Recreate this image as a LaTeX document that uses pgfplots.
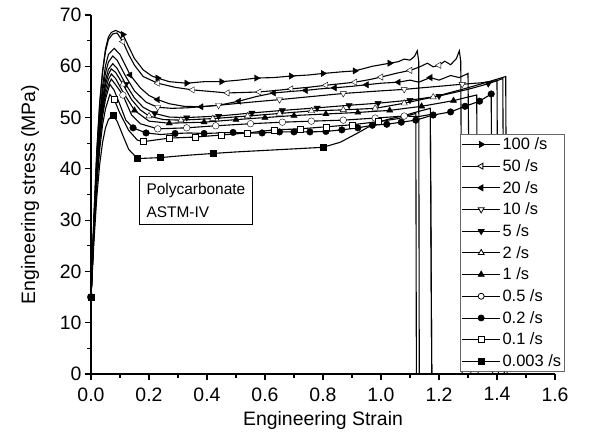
\documentclass[border=0pt]{standalone}
\usepackage{pgfplots}
\pgfplotsset{compat=1.18}
\usepackage{fontspec}
\setmainfont{Liberation Sans}

\pgfplotsset{
  cur/.style={black, line width=1.1bp, no marks, forget plot},
  mk/.style={black, only marks, forget plot, mark size=3.6bp},
}

\begin{document}
\begin{tikzpicture}
\path[use as bounding box] (-91bp,-74bp) rectangle (514bp,374bp);
\begin{axis}[
  at={(0,0)}, anchor=south west,
  width=464bp, height=359bp, scale only axis,
  xmin=0, xmax=1.6, ymin=0, ymax=70,
  clip=false,
  axis x line*=bottom, axis y line*=left,
  axis line style={-, line width=1.1bp},
  tick align=outside, major tick length=6bp, minor tick length=3.5bp,
  every tick/.style={black, line width=1.1bp},
  xtick={0,0.2,0.4,0.6,0.8,1.0,1.2,1.4,1.6},
  ytick={0,10,20,30,40,50,60,70},
  minor x tick num=1, minor y tick num=1,
  /pgf/number format/assume math mode=true,
  tick label style={font=\fontsize{19.5}{22}\selectfont},
  xticklabel style={yshift=-4bp, /pgf/number format/.cd, fixed, fixed zerofill, precision=1},
  xlabel={Engineering Strain},
  ylabel={Engineering stress (MPa)},
  every axis x label/.style={at={(axis description cs:0.5,-0.1142)}, anchor=center, yshift=-5bp,
    font=\fontsize{19.5}{22}\selectfont},
  every axis y label/.style={at={(axis description cs:-0.1315,0.5)}, anchor=center, rotate=90,
    font=\fontsize{19.5}{22}\selectfont},
  legend cell align=left,
  legend style={at={(rel axis cs:0.795,0.669)}, anchor=north west,
    draw=black!60, line width=0.8bp, fill=white,
    font=\fontsize{16.5}{16.5}\selectfont, row sep=4.3bp, inner sep=1.5bp},
  legend image code/.code={\draw[mark repeat=2, mark phase=2, #1]
    plot coordinates {(0bp,0bp) (19bp,0bp) (38bp,0bp)};},
]

% 100 /s
\addplot[cur] coordinates {(0,15)(0.01,30.6)(0.02,43.6)(0.03,53)(0.04,59.2)(0.05,63.4)(0.06,65.7)(0.07,66.6)(0.085,67)(0.1,66.6)(0.11,66.2)(0.13,63.8)(0.15,61.5)(0.18,59.3)(0.21,58.1)(0.23,57.7)(0.27,57.0)(0.33,56.7)(0.39,57.0)(0.45,57.0)(0.51,57.3)(0.57,57.7)(0.63,57.8)(0.69,58.1)(0.75,58.3)(0.80,58.6)(0.86,58.9)(0.91,59.1)(0.97,60.0)(1.03,60.6)(1.06,60.9)(1.08,61.4)(1.10,61.2)(1.115,61.9)(1.125,63.0)(1.13,61)(1.132,0)};
\addplot[mk, mark=triangle*, mark options={rotate=-90, fill=black}] coordinates {(0,15)(0.11,66.2)(0.23,57.7)(0.33,56.7)(0.45,57.0)(0.57,57.7)(0.69,58.1)(0.80,58.6)(0.91,59.1)(1.03,60.6)};

% 50 /s
\addplot[cur] coordinates {(0,15)(0.01,30.5)(0.02,43.3)(0.03,52.6)(0.04,58.8)(0.05,62.9)(0.06,65.2)(0.075,66.3)(0.09,66.5)(0.11,64.8)(0.13,62.3)(0.15,60.2)(0.18,58.0)(0.23,56.7)(0.29,55.9)(0.35,55.4)(0.41,55.1)(0.47,54.8)(0.53,54.9)(0.58,55.0)(0.64,55.3)(0.69,55.6)(0.75,55.9)(0.81,56.3)(0.86,56.6)(0.91,56.9)(0.96,57.4)(1.0,57.9)(1.05,58.6)(1.1,59.2)(1.13,59.8)(1.16,60.6)(1.18,59.9)(1.2,60.2)(1.22,61.0)(1.24,60.3)(1.26,61.5)(1.27,63.0)(1.275,61)(1.28,0)};
\addplot[mk, mark=triangle*, mark options={rotate=90, fill=white}] coordinates {(0,15)(0.11,64.8)(0.23,56.7)(0.35,55.4)(0.47,54.8)(0.58,55.0)(0.69,55.6)(0.81,56.3)(0.91,56.9)(1.0,57.9)(1.1,59.2)(1.2,60.2)};

% 20 /s
\addplot[cur] coordinates {(0,15)(0.01,29.6)(0.02,41.7)(0.03,50.4)(0.04,56.2)(0.05,60.1)(0.06,62.3)(0.08,63.5)(0.1,62.3)(0.135,58.3)(0.17,55.8)(0.2,54.3)(0.23,53.5)(0.27,52.7)(0.32,52.2)(0.38,52.1)(0.44,52.4)(0.51,53.2)(0.57,54.1)(0.63,54.8)(0.69,55.1)(0.74,55.3)(0.79,55.6)(0.84,55.8)(0.9,56.1)(0.95,56.4)(1.0,56.7)(1.06,56.9)(1.1,57.3)(1.13,56.9)(1.17,57.8)(1.2,57.3)(1.24,58.2)(1.27,57.8)(1.3,58.6)(1.31,0)};
\addplot[mk, mark=triangle*, mark options={rotate=90, fill=black}] coordinates {(0,15)(0.135,58.3)(0.23,53.5)(0.38,52.1)(0.51,53.2)(0.63,54.8)(0.74,55.3)(0.84,55.8)(0.95,56.4)(1.06,56.9)(1.17,57.8)};

% 10 /s
\addplot[cur] coordinates {(0,15)(0.01,29.1)(0.02,40.9)(0.03,49.3)(0.04,55)(0.05,58.7)(0.06,60.8)(0.075,62)(0.09,61.2)(0.12,58)(0.15,55.2)(0.19,53)(0.23,52.0)(0.28,51.8)(0.33,51.9)(0.44,52.4)(0.55,53.0)(0.65,53.5)(0.76,54.1)(0.87,54.7)(0.97,55.1)(1.08,55.5)(1.18,56.0)(1.28,56.5)(1.35,56.8)(1.40,57.2)(1.405,0)};
\addplot[mk, mark=triangle*, mark options={rotate=180, fill=white}] coordinates {(0,15)(0.23,52.0)(0.44,52.4)(0.65,53.5)(0.87,54.7)(1.08,55.5)(1.28,56.5)};

% 5 /s
\addplot[cur] coordinates {(0,15)(0.01,28.7)(0.02,40)(0.03,48.2)(0.04,53.7)(0.05,57.3)(0.06,59.4)(0.075,60.5)(0.09,59.6)(0.12,56.5)(0.15,53.8)(0.18,52.0)(0.22,50.8)(0.27,50.1)(0.33,50.0)(0.44,50.3)(0.555,50.9)(0.66,51.4)(0.78,51.9)(0.89,52.4)(0.99,52.8)(1.1,53.4)(1.2,54.2)(1.3,55.5)(1.37,56.6)(1.42,57.6)(1.425,0)};
\addplot[mk, mark=triangle*, mark options={rotate=180, fill=black}] coordinates {(0,15)(0.12,56.5)(0.22,50.8)(0.33,50.0)(0.44,50.3)(0.555,50.9)(0.66,51.4)(0.78,51.9)(0.89,52.4)(0.99,52.8)(1.1,53.4)(1.2,54.2)(1.37,56.6)};

% 2 /s
\addplot[cur] coordinates {(0,15)(0.01,28.4)(0.02,39.5)(0.03,47.5)(0.04,52.8)(0.05,56.4)(0.06,58.4)(0.07,59.5)(0.085,58.8)(0.11,56.5)(0.14,53.5)(0.17,51.5)(0.2,50.3)(0.25,49.6)(0.31,49.5)(0.42,49.8)(0.54,50.3)(0.65,50.8)(0.76,51.3)(0.87,51.5)(0.98,51.8)(1.08,52.8)(1.18,54.0)(1.28,55.5)(1.36,56.8)(1.43,58.0)(1.435,0)};
\addplot[mk, mark=triangle*, mark options={fill=white}] coordinates {(0,15)(0.11,56.5)(0.2,50.3)(0.31,49.5)(0.42,49.8)(0.54,50.3)(0.65,50.8)(0.76,51.3)(0.87,51.5)(0.98,51.8)(1.08,52.8)(1.18,54.0)};

% 1 /s
\addplot[cur] coordinates {(0,15)(0.01,28.1)(0.02,38.9)(0.03,46.8)(0.04,52)(0.05,55.5)(0.06,57.4)(0.07,58.5)(0.085,57.6)(0.11,55)(0.15,51.4)(0.2,49.3)(0.27,48.9)(0.39,49.1)(0.5,49.6)(0.6,50.0)(0.7,50.4)(0.81,50.7)(0.92,51.0)(1.03,51.4)(1.14,52.2)(1.25,53.3)(1.3,54.0)(1.33,54.4)(1.335,0)};
\addplot[mk, mark=triangle*, mark options={fill=black}] coordinates {(0,15)(0.15,51.4)(0.27,48.9)(0.39,49.1)(0.5,49.6)(0.6,50.0)(0.7,50.4)(0.81,50.7)(0.92,51.0)(1.03,51.4)(1.14,52.2)(1.25,53.3)};

% 0.5 /s
\addplot[cur] coordinates {(0,15)(0.01,27.8)(0.02,38.4)(0.03,46)(0.04,51.1)(0.05,54.5)(0.06,56.4)(0.07,57.5)(0.085,56.4)(0.11,54.4)(0.14,50.5)(0.17,48.8)(0.23,47.8)(0.33,48.0)(0.43,48.4)(0.55,48.8)(0.66,49.1)(0.76,49.3)(0.87,49.5)(0.98,49.9)(1.08,50.3)(1.13,50.2)(1.17,50.6)(1.175,0)};
\addplot[mk, mark=*, mark size=3.3bp, mark options={fill=white}] coordinates {(0,15)(0.11,54.4)(0.23,47.8)(0.33,48.0)(0.43,48.4)(0.55,48.8)(0.66,49.1)(0.76,49.3)(0.87,49.5)(0.98,49.9)(1.08,50.3)};

% 0.2 /s
\addplot[cur] coordinates {(0,15)(0.01,27.5)(0.02,37.8)(0.03,45.3)(0.04,50.3)(0.05,53.6)(0.065,56.5)(0.08,55.3)(0.1,52.5)(0.12,49.5)(0.145,48.0)(0.19,47.0)(0.24,46.7)(0.29,46.9)(0.34,47.0)(0.39,46.9)(0.44,47.0)(0.49,47.1)(0.54,47.0)(0.59,47.0)(0.65,47.2)(0.70,47.2)(0.755,47.2)(0.81,47.3)(0.865,47.6)(0.92,48.0)(0.97,48.5)(1.02,48.7)(1.07,49.1)(1.12,49.5)(1.18,50.5)(1.24,51.1)(1.29,52.2)(1.34,53.2)(1.38,54.6)(1.385,0)};
\addplot[mk, mark=*, mark size=3.3bp, mark options={fill=black}] coordinates {(0,15)(0.145,48.0)(0.19,47.0)(0.29,46.9)(0.39,46.9)(0.49,47.1)(0.59,47.0)(0.65,47.2)(0.70,47.2)(0.755,47.2)(0.81,47.3)(0.865,47.6)(0.92,48.0)(0.97,48.5)(1.02,48.7)(1.07,49.1)(1.12,49.5)(1.18,50.5)(1.24,51.1)(1.29,52.2)(1.34,53.2)(1.38,54.6)};

% 0.1 /s
\addplot[cur] coordinates {(0,15)(0.01,26.9)(0.02,36.7)(0.03,43.8)(0.04,48.6)(0.05,51.7)(0.065,54.5)(0.08,53.5)(0.1,50.8)(0.13,47.5)(0.16,45.6)(0.18,45.3)(0.27,46.0)(0.36,46.2)(0.45,46.6)(0.54,47.0)(0.63,47.6)(0.72,47.8)(0.81,48.2)(0.9,48.6)(0.99,49.2)(1.06,49.8)(1.1,50.5)(1.12,50.8)(1.122,0)};
\addplot[mk, mark=square*, mark size=3bp, mark options={fill=white}] coordinates {(0,15)(0.08,53.5)(0.18,45.3)(0.27,46.0)(0.36,46.2)(0.45,46.6)(0.54,47.0)(0.63,47.6)(0.72,47.8)(0.81,48.2)(0.9,48.6)(0.99,49.2)};

% 0.003 /s
\addplot[cur] coordinates {(0,15)(0.01,25.7)(0.02,34.5)(0.03,40.9)(0.04,45.2)(0.05,48)(0.06,49.6)(0.075,50.5)(0.09,49.3)(0.11,46.5)(0.13,43.8)(0.16,42.0)(0.24,42.2)(0.32,42.6)(0.42,43.0)(0.5,43.3)(0.6,43.6)(0.7,43.9)(0.8,44.2)(0.86,45.2)(0.92,47.0)(0.97,48.6)(1.02,49.6)(1.08,50.4)(1.13,51.2)(1.17,51.8)(1.175,0)};
\addplot[mk, mark=square*, mark size=3bp, mark options={fill=black}] coordinates {(0,15)(0.075,50.5)(0.16,42.0)(0.24,42.2)(0.42,43.0)(0.8,44.2)};

% legend entries
\addlegendimage{black, line width=0.8bp, mark=triangle*, mark size=3.4bp, mark options={rotate=-90, fill=black}}
\addlegendentry{100 /s}
\addlegendimage{black, line width=0.8bp, mark=triangle*, mark size=3.4bp, mark options={rotate=90, fill=white}}
\addlegendentry{50 /s}
\addlegendimage{black, line width=0.8bp, mark=triangle*, mark size=3.4bp, mark options={rotate=90, fill=black}}
\addlegendentry{20 /s}
\addlegendimage{black, line width=0.8bp, mark=triangle*, mark size=3.4bp, mark options={rotate=180, fill=white}}
\addlegendentry{10 /s}
\addlegendimage{black, line width=0.8bp, mark=triangle*, mark size=3.4bp, mark options={rotate=180, fill=black}}
\addlegendentry{5 /s}
\addlegendimage{black, line width=0.8bp, mark=triangle*, mark size=3.4bp, mark options={fill=white}}
\addlegendentry{2 /s}
\addlegendimage{black, line width=0.8bp, mark=triangle*, mark size=3.4bp, mark options={fill=black}}
\addlegendentry{1 /s}
\addlegendimage{black, line width=0.8bp, mark=*, mark size=3bp, mark options={fill=white}}
\addlegendentry{0.5 /s}
\addlegendimage{black, line width=0.8bp, mark=*, mark size=3bp, mark options={fill=black}}
\addlegendentry{0.2 /s}
\addlegendimage{black, line width=0.8bp, mark=square*, mark size=2.8bp, mark options={fill=white}}
\addlegendentry{0.1 /s}
\addlegendimage{black, line width=0.8bp, mark=square*, mark size=2.8bp, mark options={fill=black}}
\addlegendentry{0.003 /s}

\node[draw, line width=0.8bp, anchor=north west, align=left, inner xsep=7bp, inner ysep=7bp,
  font=\fontsize{15.5}{23}\selectfont] at (axis cs:0.166,38.6) {Polycarbonate\\ASTM-IV};
\end{axis}
\end{tikzpicture}
\end{document}
